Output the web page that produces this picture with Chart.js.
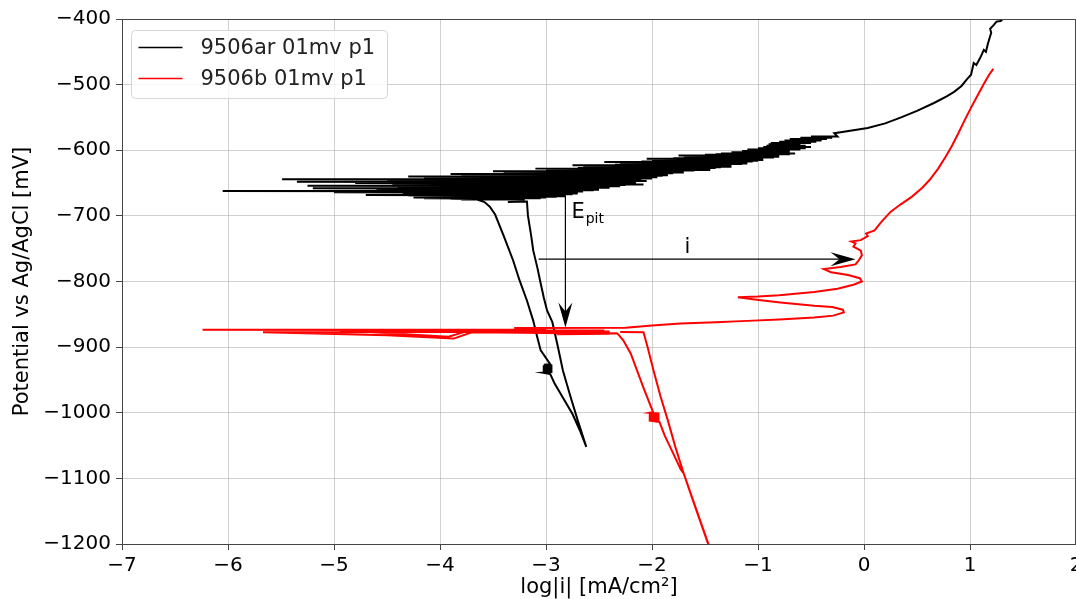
<!DOCTYPE html>
<html><head><meta charset="utf-8">
<script src="https://cdn.jsdelivr.net/npm/chart.js@4"></script>
<style>html,body{margin:0;padding:0;background:#fff;overflow:hidden}canvas{display:block}</style>
</head><body>
<canvas id="c" width="1076" height="599"></canvas>
<script>
// ---------- data ----------
const seriesLabels = ['9506ar 01mv p1', '9506b 01mv p1'];
const seriesColors = ['#000000', '#ff0000'];
const xRange = [-7, 2];
const yRange = [-1200, -400];
const xTickStep = 1;
const yTickStep = 100;
const xTitle = 'log|i| [mA/cm\u00B2]';
const yTitle = 'Potential vs Ag/AgCl [mV]';

// ---- 9506ar 01mv p1 (black) ----
const blackCathLogI = [
  -3.36,-3.18,-3.17,-3.14,-3.12,-3.08,-3.05,-3.02,-2.99,-2.94,-2.89,-2.84,-2.77,-2.70,-2.62,
  -2.68,-2.75,-2.84,-2.92,-2.96,
  -3.03,-2.94,-3.03,-2.94,-3.03,-2.94,-3.03,-2.94,-3.03,-2.94,-3.03,-2.94,-3.02,-2.96,
  -3.05,-3.09,-3.12,-3.18,-3.25,-3.31,-3.40,-3.48,-3.53,-3.58,-3.65
];
const blackCathE = [
  -679,-678,-700,-730,-753,-780,-803,-825,-844,-862,-898,-936,-975,-1012,-1052,
  -1027,-1002,-977,-955,-941,
  -939,-938,-937,-936,-935,-934,-933,-932,-931,-930,-929,-928,-927,-926,
  -905,-880,-860,-829,-798,-768,-730,-698,-686,-679,-675
];
const blackBandE = [
  -675,-674,-673,-672,-671,-670,-669,-668,-667,-666,-665,-664,-663,-662,-661,-660,-659,-658,-657,-656,
  -655,-654,-653,-652,-651,-650,-649,-648,-647,-646,-645,-644,-643,-642,-641,-640,-639,-638,-637,-636,
  -635,-634,-633,-632,-631,-630,-629,-628,-627,-626,-625,-624,-623,-622,-621,-620,-619,-618,-617,-616,
  -615,-614,-613,-612,-611,-610,-609,-608,-607,-606,-605,-603,-601,-599,-597,-595,-593,-591,-589,-587,
  -585,-583,-581,-579
];
const blackBandLeft = [
  -3.80,-3.90,-4.15,-4.25,-4.05,-4.00,-4.30,-4.70,-4.20,-4.10,-4.35,-5.00,-4.25,-6.05,-4.30,-4.60,-4.20,-5.20,-4.35,-4.40,
  -4.15,-5.25,-4.25,-4.20,-4.45,-4.80,-4.10,-5.35,-4.20,-4.50,-4.05,-5.49,-4.15,-4.00,-4.10,-4.30,-3.80,-3.70,-3.60,-3.90,
  -3.40,-3.30,-3.20,-3.50,-3.00,-2.90,-2.85,-3.10,-2.70,-2.65,-2.60,-2.50,-2.75,-2.35,-2.30,-2.25,-2.15,-2.45,-2.10,-2.00,
  -1.95,-1.90,-2.05,-1.80,-1.70,-1.65,-1.60,-1.75,-1.50,-1.40,-1.35,-1.25,-1.15,-1.10,-1.00,-0.95,-0.92,-0.90,-0.88,-0.80,
  -0.75,-0.70,-0.60,-0.50
];
const blackBandRight = [
  -3.20,-3.25,-3.05,-3.00,-2.90,-2.82,-2.95,-3.10,-2.75,-2.70,-2.85,-2.95,-2.65,-3.30,-2.55,-2.50,-2.65,-2.75,-2.40,-2.45,
  -2.30,-2.60,-2.25,-2.08,-2.30,-2.35,-2.15,-2.20,-2.05,-2.50,-2.10,-2.15,-2.00,-2.00,-1.95,-2.30,-1.90,-1.85,-1.95,-2.05,
  -1.80,-1.70,-1.75,-1.90,-1.60,-1.45,-1.55,-1.65,-1.40,-1.35,-1.25,-1.40,-1.50,-1.25,-1.15,-1.10,-1.20,-1.30,-1.05,-1.00,
  -0.95,-1.05,-1.15,-0.95,-0.85,-0.80,-0.90,-0.95,-0.80,-0.70,-0.65,-0.70,-0.70,-0.60,-0.55,-0.50,-0.55,-0.60,-0.50,-0.45,
  -0.40,-0.35,-0.30,-0.25
];
const blackAnodLogI = [-0.28,0.035,0.20,0.35,0.50,0.66,0.78,0.85,0.92,0.97,1.01,1.035,1.06,1.10,1.13,1.15,1.17,1.20,1.19,1.225,1.25,1.29,1.33];
const blackAnodE    = [-574,-566,-559,-550,-540,-528,-518,-511,-502,-492,-485,-467,-470,-458,-447,-450,-437,-421,-415,-409,-404,-403,-396];

// ---- 9506b 01mv p1 (red) ----
const redCathLogI = [
  -2.30,-2.08,-2.04,-1.985,-1.92,-1.85,-1.78,-1.70,-1.60,-1.47,-1.39,
  -1.70,-1.73,-1.80,-1.88,-1.93,
  -2.03,-1.93,-2.03,-1.93,-2.03,-1.93,-2.03,-1.93,-2.03,-1.93,-2.03,-1.93,-2.02,-1.99,
  -2.08,-2.20,-2.27,-2.31,-2.33
];
const redCathE = [
  -877,-877.5,-901,-936,-975,-1012,-1052,-1093,-1140,-1200,-1236,
  -1093,-1086,-1062,-1035,-1014,
  -1012,-1011,-1010,-1009,-1008,-1007,-1006,-1005,-1004,-1003,-1002,-1001,-1000,-999,
  -962,-910,-890,-882,-879
];
const redBandLogI = [
  -2.90,-2.40,-3.00,-3.70,-3.87,-4.50,-5.67,-4.00,-3.00,-2.40,-3.75,-3.92,-4.94,-3.50,-2.60,-3.20,-2.45,
  -4.50,-6.24,-4.00,-3.00,-3.30,-2.25
];
const redBandE = [
  -880.5,-879.5,-878.5,-877.5,-887,-882,-877.5,-877,-876.5,-876,-876,-884,-874.5,-875,-875,-874.5,-874.5,
  -874,-873.7,-873.5,-873,-871,-870.5
];
const redAnodLogI = [
  -2.00,-1.73,-1.40,-1.10,-0.80,-0.47,-0.29,-0.19,-0.20,-0.30,-0.47,-0.79,-1.05,-1.19,-1.00,-0.80,-0.47,-0.25,-0.10,-0.02,
  -0.04,-0.15,-0.31,-0.38,-0.22,-0.08,-0.05,-0.02,-0.03,-0.10,-0.08,-0.12,-0.03,0.035,0.02,0.10,0.13,0.16,0.25,0.35,
  0.45,0.55,0.62,0.70,0.77,0.83,0.89,0.95,1.01,1.07,1.13,1.18,1.22
];
const redAnodE = [
  -867,-864,-862,-860,-858,-855,-852,-847,-843,-839,-837,-832,-827,-824,-823,-821,-816,-811,-805,-800,
  -795,-790,-786,-781,-778,-774,-768,-760,-753,-747,-742,-739,-737,-731,-727,-722,-716,-710,-694,-682,
  -671,-657,-645,-628,-610,-593,-574,-554,-535,-517,-499,-485,-476
];

// annotations (data coordinates)
const epitArrowX = -2.817;
const epitArrowE = [-642.7, -870];
const currentArrowE = -766;
const currentArrowX = [-3.07, -0.08];
const epitLabelPos = [-2.76, -703.8];
const currentLabelPos = [-1.665, -757.2];

// ---------- build point tables ----------
const toPts = (xs, ys) => xs.map((x, i) => ({x: x, y: ys[i]}));
const bandPts = (es, ls, rs) => {
  const out = [];
  es.forEach((e, i) => { out.push({x: ls[i], y: e}); out.push({x: rs[i], y: e}); });
  return out;
};
const blackPts = [].concat(
  toPts(blackCathLogI, blackCathE),
  bandPts(blackBandE, blackBandLeft, blackBandRight),
  toPts(blackAnodLogI, blackAnodE)
);
const redPts = [].concat(
  toPts(redCathLogI, redCathE),
  toPts(redBandLogI, redBandE),
  toPts(redAnodLogI, redAnodE)
);

// ---------- chart ----------
const FONT = "'DejaVu Sans', 'Liberation Sans', sans-serif";
Chart.defaults.font.family = FONT;
Chart.defaults.color = '#000';
const fmt = v => String(v).replace('-', '\u2212');

function arrowHead(ctx, tx, ty, dx, dy, L, W, notch) {
  const px = -dy, py = dx;
  ctx.beginPath();
  ctx.moveTo(tx, ty);
  ctx.lineTo(tx - dx * L + px * W, ty - dy * L + py * W);
  ctx.lineTo(tx - dx * notch, ty - dy * notch);
  ctx.lineTo(tx - dx * L - px * W, ty - dy * L - py * W);
  ctx.closePath();
  ctx.fill();
}

const annotations = {
  id: 'annotations',
  afterDatasetsDraw(chart) {
    const {ctx, scales: {x, y}} = chart;
    ctx.save();
    ctx.strokeStyle = '#000'; ctx.fillStyle = '#000'; ctx.lineWidth = 1.2;
    const vx = x.getPixelForValue(epitArrowX);
    const vy0 = y.getPixelForValue(epitArrowE[0]);
    const vy1 = y.getPixelForValue(epitArrowE[1]);
    ctx.beginPath(); ctx.moveTo(vx, vy0); ctx.lineTo(vx, vy1 - 10); ctx.stroke();
    arrowHead(ctx, vx, vy1, 0, 1, 25, 7, 16);
    const hy = y.getPixelForValue(currentArrowE);
    const hx0 = x.getPixelForValue(currentArrowX[0]);
    const hx1 = x.getPixelForValue(currentArrowX[1]);
    ctx.beginPath(); ctx.moveTo(hx0, hy); ctx.lineTo(hx1 - 10, hy); ctx.stroke();
    arrowHead(ctx, hx1, hy, 1, 0, 25, 7, 16);
    ctx.textBaseline = 'alphabetic';
    ctx.textAlign = 'left';
    const ex = x.getPixelForValue(epitLabelPos[0]);
    const ey = y.getPixelForValue(epitLabelPos[1]);
    ctx.font = '21px ' + FONT;
    ctx.fillText('E', ex, ey);
    const ew = ctx.measureText('E').width;
    ctx.font = '14px ' + FONT;
    ctx.fillText('pit', ex + ew + 1, ey + 5);
    ctx.font = '21px ' + FONT;
    ctx.textAlign = 'center';
    ctx.fillText('i', x.getPixelForValue(currentLabelPos[0]), y.getPixelForValue(currentLabelPos[1]));
    ctx.restore();
  }
};

const frame = {
  id: 'frame',
  afterDraw(chart) {
    const {ctx, chartArea: a} = chart;
    ctx.save();
    ctx.strokeStyle = '#444'; ctx.lineWidth = 1;
    ctx.strokeRect(Math.round(a.left) + 0.5, Math.round(a.top) + 0.5, Math.round(a.right - a.left) - 1, Math.round(a.bottom - a.top));
    ctx.restore();
  }
};

const boxLegend = {
  id: 'boxLegend',
  afterDraw(chart) {
    const {ctx, chartArea: a} = chart;
    const ds = chart.data.datasets;
    const bx = a.left + 9.5, by = a.top + 11.5, bw = 256, bh = 68, r = 4;
    ctx.save();
    ctx.beginPath();
    ctx.moveTo(bx + r, by); ctx.lineTo(bx + bw - r, by); ctx.quadraticCurveTo(bx + bw, by, bx + bw, by + r);
    ctx.lineTo(bx + bw, by + bh - r); ctx.quadraticCurveTo(bx + bw, by + bh, bx + bw - r, by + bh);
    ctx.lineTo(bx + r, by + bh); ctx.quadraticCurveTo(bx, by + bh, bx, by + bh - r);
    ctx.lineTo(bx, by + r); ctx.quadraticCurveTo(bx, by, bx + r, by);
    ctx.closePath();
    ctx.fillStyle = 'rgba(255,255,255,0.8)'; ctx.fill();
    ctx.strokeStyle = '#d6d6d6'; ctx.lineWidth = 1; ctx.stroke();
    ctx.font = '21px ' + FONT;
    ctx.textBaseline = 'middle'; ctx.textAlign = 'left';
    ds.forEach((d, i) => {
      const ly = by + 17 + i * 31;
      ctx.strokeStyle = d.borderColor; ctx.lineWidth = 1.6;
      ctx.beginPath(); ctx.moveTo(bx + 7, ly); ctx.lineTo(bx + 51, ly); ctx.stroke();
      ctx.fillStyle = '#222';
      ctx.fillText(d.label, bx + 69, ly + 1);
    });
    ctx.restore();
  }
};

new Chart(document.getElementById('c'), {
  type: 'scatter',
  data: {
    datasets: [
      {label: seriesLabels[0], data: blackPts, showLine: true, borderColor: seriesColors[0],
       backgroundColor: seriesColors[0], borderWidth: 2.0, pointRadius: 0, tension: 0, order: 1},
      {label: seriesLabels[1], data: redPts, showLine: true, borderColor: seriesColors[1],
       backgroundColor: seriesColors[1], borderWidth: 2.0, pointRadius: 0, tension: 0, order: 0}
    ]
  },
  options: {
    responsive: false, animation: false, devicePixelRatio: 1,
    layout: {padding: {top: 19, right: 0, bottom: 0, left: 0}},
    plugins: {legend: {display: false}, tooltip: {enabled: false}},
    scales: {
      x: {
        type: 'linear', min: xRange[0], max: xRange[1],
        ticks: {stepSize: xTickStep, callback: fmt, font: {size: 20}, padding: 4, color: '#000', maxRotation: 0},
        grid: {color: 'rgba(176,176,176,0.6)', lineWidth: 1, tickLength: 6, tickColor: '#444'},
        border: {display: false},
        title: {display: true, text: xTitle, font: {size: 21, lineHeight: 1.0}, padding: {top: 0, bottom: 1}, color: '#000'},
        afterFit(s) { s.height = 55; s.paddingLeft = 0; s.paddingRight = 0; }
      },
      y: {
        type: 'linear', min: yRange[0], max: yRange[1],
        ticks: {stepSize: yTickStep, callback: fmt, font: {size: 20}, padding: 5, color: '#000'},
        grid: {color: 'rgba(176,176,176,0.6)', lineWidth: 1, tickLength: 6, tickColor: '#444'},
        border: {display: false},
        title: {display: true, text: yTitle, font: {size: 21, lineHeight: 1.0}, padding: {top: 12, bottom: 0}, color: '#000'},
        afterFit(s) { s.width = 122; s.paddingTop = 0; s.paddingBottom = 0; }
      }
    }
  },
  plugins: [annotations, frame, boxLegend]
});
</script>
</body></html>
